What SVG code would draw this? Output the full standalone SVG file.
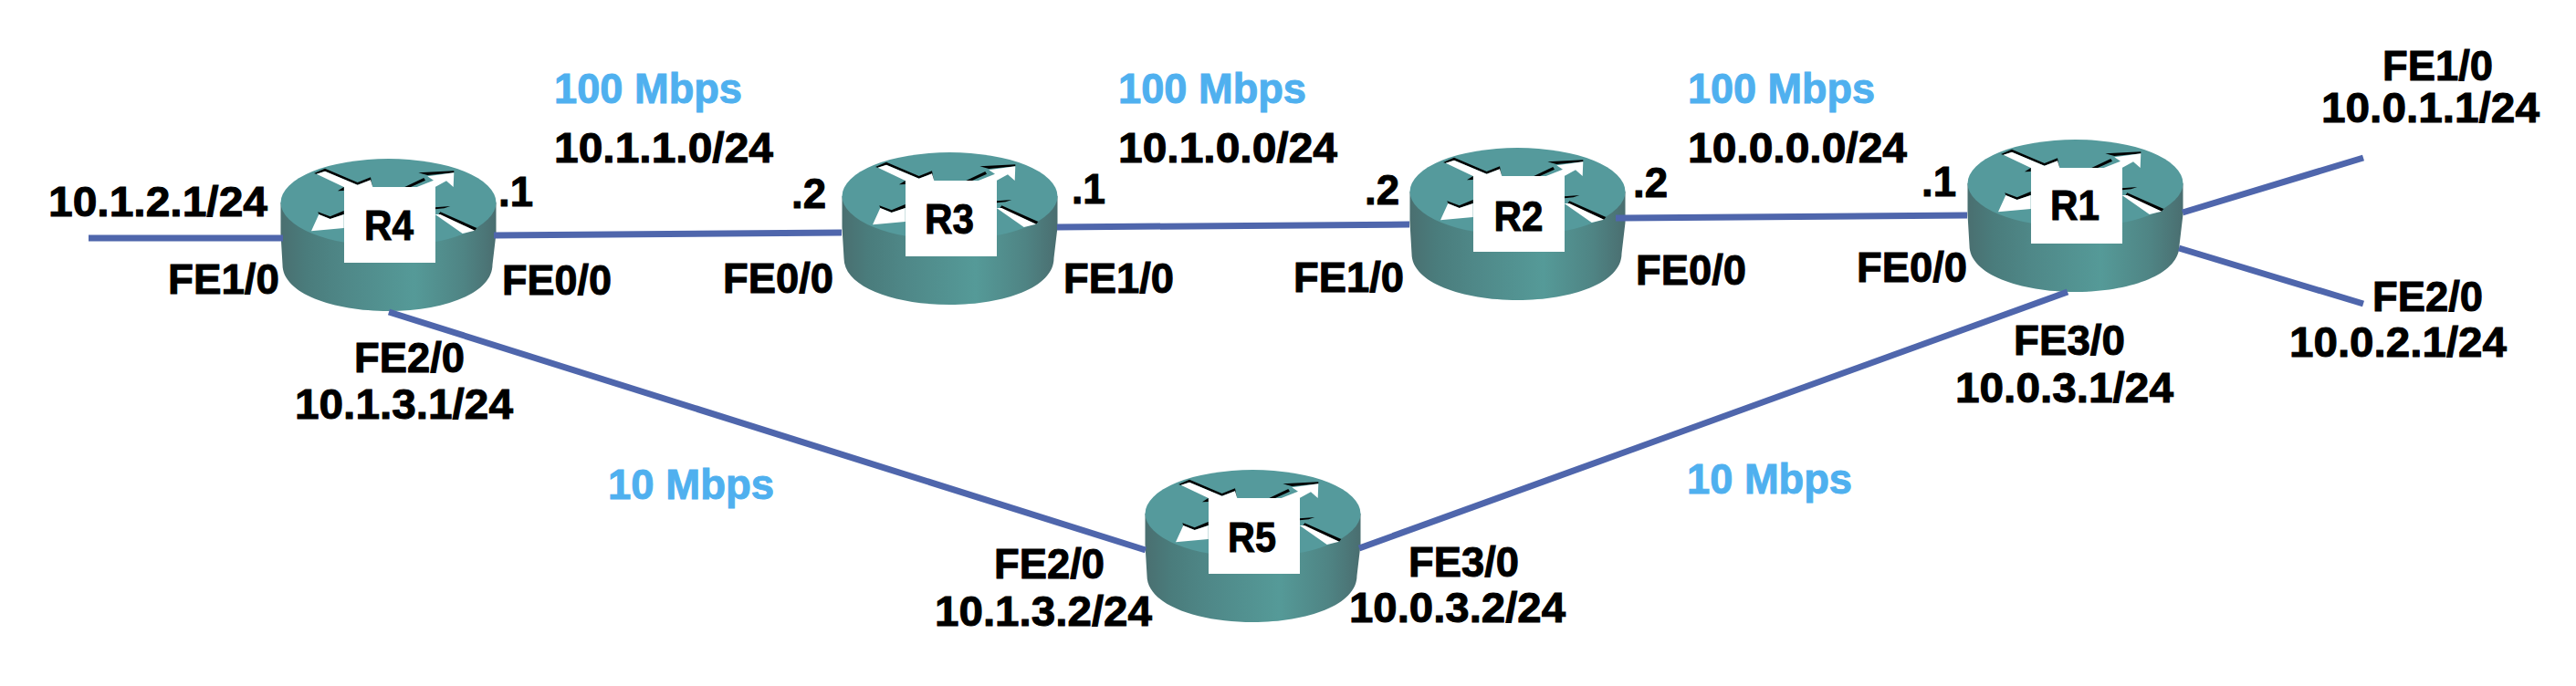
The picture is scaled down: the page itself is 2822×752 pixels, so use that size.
<svg xmlns="http://www.w3.org/2000/svg" width="2822" height="752" viewBox="0 0 2822 752">
<style>
text{font-family:"Liberation Sans",Arial,sans-serif;font-weight:700;font-size:47px;fill:#000;stroke:#000;stroke-width:1px}
.sp{fill:#4fb0ef;stroke:#4fb0ef}
.rn{text-anchor:middle}
.c line{stroke:#4f66ac;stroke-width:7}
</style>
<defs>
<linearGradient id="side" x1="0" x2="1" y1="0" y2="0">
<stop offset="0" stop-color="#4a6f70"/><stop offset=".12" stop-color="#4a7c7c"/><stop offset=".3" stop-color="#4f8888"/><stop offset=".62" stop-color="#559a98"/><stop offset=".85" stop-color="#4f8484"/><stop offset="1" stop-color="#4a6e70"/>
</linearGradient>
<g id="router">
<path d="M-118 0V34L-116 68C-116 100-60 119 0 119S114 100 114 68L118 34V0Z" fill="url(#side)"/>
<ellipse cx="0" cy="0" rx="118" ry="48" fill="#559a9c"/>
<path d="M-81.500-32L-69.500-37.300-33.800-22-19.500-27.700-17.500-17-23-17-19.500-24.700-33.800-19.300-69.500-34.300-78.800-31.300Z" fill="#000"/>
<path d="M-78.800-31.300L-69.500-34.300-33.800-19.300-19.500-24.700-17.200-17-48.800-17Z" fill="#fff"/>
<path d="M-55.500-12.700L-48.800-17V-13Z" fill="#000"/>
<path d="M32.800-32.700L71.800-34.700V-32.700L42.800-30ZM17.800-17L38.800-27 40.500-24.300 24.500-17Z" fill="#000"/>
<path d="M31.200-17L49.500-24.300 42.800-28.700 71.800-32.700 71.200-17 63.500-23.700 51.200-17Z" fill="#fff"/>
<path d="M-77.200 10.300L-63.800 15.300-48.800 9V13L-63.800 18-76.200 13Z" fill="#000"/>
<path d="M-84.500 31.300L-76.200 13-63.800 18-48.800 13V28Z" fill="#fff"/>
<path d="M56.800 10.300L96.800 28 94.500 30.700 55 13ZM51.200 5.300L67.800 4 61.200 6.300 51.200 7.300Z" fill="#000"/>
<path d="M51.200 13L81.200 34 94.500 30.700 56.800 13Z" fill="#fff"/>
<rect x="-48.500" y="-17" width="100" height="83" fill="#fff"/>
</g>
</defs>
<g id="R4"><use href="#router" x="425.500" y="222"/><text class="rn" x="426" y="263" textLength="54" lengthAdjust="spacingAndGlyphs">R4</text></g>
<g id="R3"><use href="#router" x="1040.500" y="215"/><text class="rn" x="1040" y="256" textLength="54" lengthAdjust="spacingAndGlyphs">R3</text></g>
<g id="R2"><use href="#router" x="1662.500" y="210"/><text class="rn" x="1663.500" y="253" textLength="54" lengthAdjust="spacingAndGlyphs">R2</text></g>
<g id="R1"><use href="#router" x="2273.500" y="201"/><text class="rn" x="2273" y="241" textLength="54" lengthAdjust="spacingAndGlyphs">R1</text></g>
<g id="R5"><use href="#router" x="1372.500" y="563"/><text class="rn" x="1371.500" y="605" textLength="53" lengthAdjust="spacingAndGlyphs">R5</text></g>
<g id="connectors" class="c">
<line x1="97" y1="261" x2="310" y2="261"/>
<line x1="541" y1="258" x2="922" y2="255"/>
<line x1="1158" y1="249" x2="1544" y2="246"/>
<line x1="1770" y1="239" x2="2155" y2="236"/>
<line x1="426" y1="342" x2="1255" y2="603"/>
<line x1="1489" y1="601" x2="2265" y2="320"/>
<line x1="2391" y1="233" x2="2589" y2="173"/>
<line x1="2387" y1="272" x2="2589" y2="333"/>
</g>
<g id="labels">
<text class="sp" x="607" y="113" textLength="206" lengthAdjust="spacingAndGlyphs">100 Mbps</text>
<text x="607" y="178" textLength="240" lengthAdjust="spacingAndGlyphs">10.1.1.0/24</text>
<text class="sp" x="1225" y="113" textLength="206" lengthAdjust="spacingAndGlyphs">100 Mbps</text>
<text x="1225" y="178" textLength="240" lengthAdjust="spacingAndGlyphs">10.1.0.0/24</text>
<text class="sp" x="1849" y="113" textLength="205" lengthAdjust="spacingAndGlyphs">100 Mbps</text>
<text x="1849" y="178" textLength="240" lengthAdjust="spacingAndGlyphs">10.0.0.0/24</text>
<text class="sp" x="666" y="547" textLength="182" lengthAdjust="spacingAndGlyphs">10 Mbps</text>
<text class="sp" x="1848" y="541" textLength="181" lengthAdjust="spacingAndGlyphs">10 Mbps</text>
<text x="53" y="237" textLength="240" lengthAdjust="spacingAndGlyphs">10.1.2.1/24</text>
<text x="184" y="322" textLength="122" lengthAdjust="spacingAndGlyphs">FE1/0</text>
<text x="550" y="323" textLength="120" lengthAdjust="spacingAndGlyphs">FE0/0</text>
<text x="388" y="408" textLength="121" lengthAdjust="spacingAndGlyphs">FE2/0</text>
<text x="323" y="459" textLength="239" lengthAdjust="spacingAndGlyphs">10.1.3.1/24</text>
<text x="546" y="226" textLength="38" lengthAdjust="spacingAndGlyphs">.1</text>
<text x="867" y="228" textLength="38" lengthAdjust="spacingAndGlyphs">.2</text>
<text x="1174" y="223" textLength="37" lengthAdjust="spacingAndGlyphs">.1</text>
<text x="1495" y="224" textLength="38" lengthAdjust="spacingAndGlyphs">.2</text>
<text x="1789" y="216" textLength="38" lengthAdjust="spacingAndGlyphs">.2</text>
<text x="2105" y="215" textLength="38" lengthAdjust="spacingAndGlyphs">.1</text>
<text x="792" y="321" textLength="121" lengthAdjust="spacingAndGlyphs">FE0/0</text>
<text x="1165" y="321" textLength="121" lengthAdjust="spacingAndGlyphs">FE1/0</text>
<text x="1417" y="320" textLength="121" lengthAdjust="spacingAndGlyphs">FE1/0</text>
<text x="1792" y="312" textLength="121" lengthAdjust="spacingAndGlyphs">FE0/0</text>
<text x="2034" y="309" textLength="121" lengthAdjust="spacingAndGlyphs">FE0/0</text>
<text x="2610" y="88" textLength="121" lengthAdjust="spacingAndGlyphs">FE1/0</text>
<text x="2543" y="134" textLength="239" lengthAdjust="spacingAndGlyphs">10.0.1.1/24</text>
<text x="2599" y="341" textLength="121" lengthAdjust="spacingAndGlyphs">FE2/0</text>
<text x="2508" y="391" textLength="238" lengthAdjust="spacingAndGlyphs">10.0.2.1/24</text>
<text x="2206" y="389" textLength="122" lengthAdjust="spacingAndGlyphs">FE3/0</text>
<text x="2142" y="441" textLength="239" lengthAdjust="spacingAndGlyphs">10.0.3.1/24</text>
<text x="1089" y="634" textLength="121" lengthAdjust="spacingAndGlyphs">FE2/0</text>
<text x="1024" y="686" textLength="238" lengthAdjust="spacingAndGlyphs">10.1.3.2/24</text>
<text x="1543" y="632" textLength="121" lengthAdjust="spacingAndGlyphs">FE3/0</text>
<text x="1478" y="682" textLength="237" lengthAdjust="spacingAndGlyphs">10.0.3.2/24</text>
</g>
</svg>
